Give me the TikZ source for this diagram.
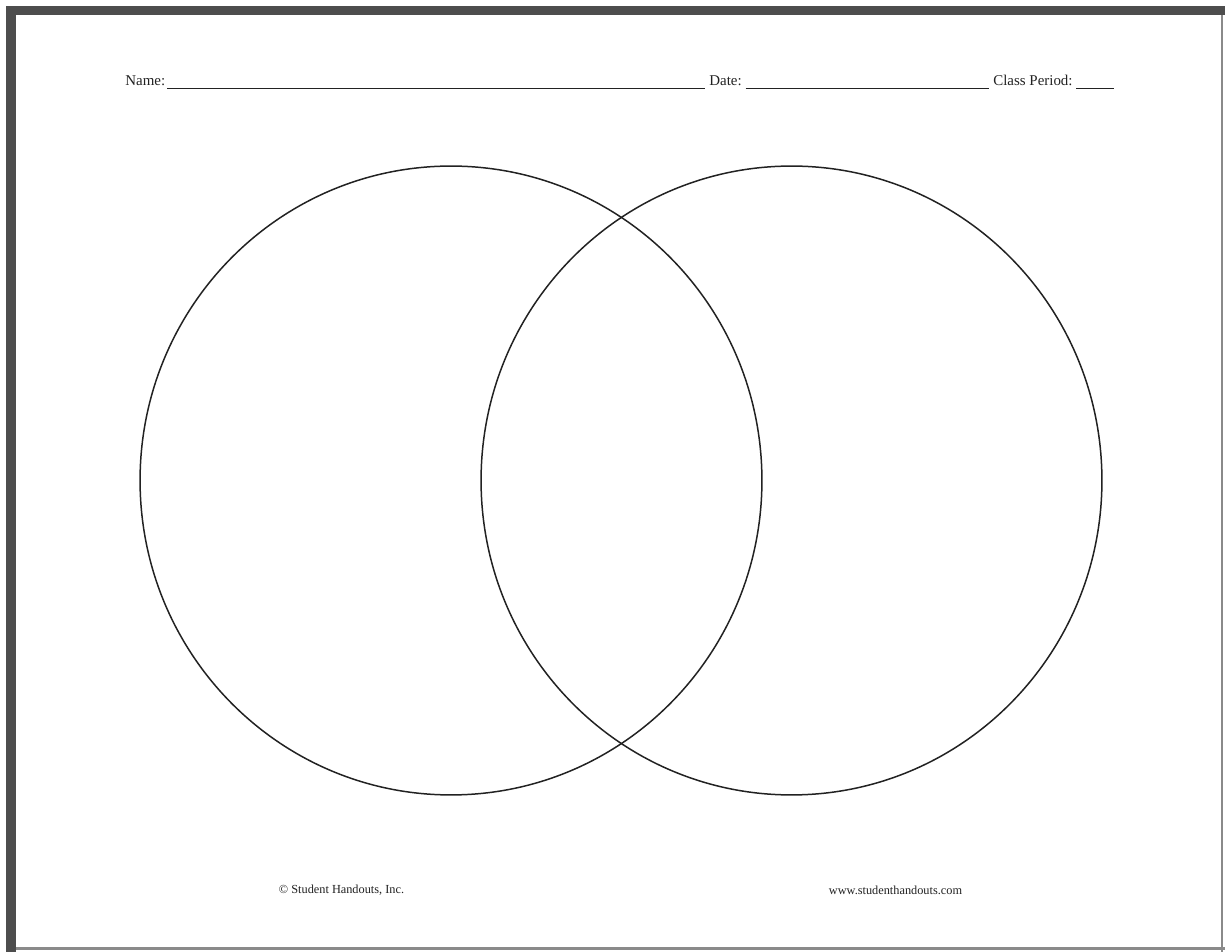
\documentclass[tikz,border=0pt]{standalone}
\usepackage{fontspec}
\setmainfont{Liberation Serif}
\usetikzlibrary{shapes.geometric}
\definecolor{ink}{HTML}{222222}
\definecolor{frame}{HTML}{4D4D4D}
\definecolor{edge}{HTML}{8A8A8A}
\tikzset{
  every node/.style={font=\rmfamily},
  ring/.style={draw=ink, ellipse, line width=0.85pt, inner sep=0pt},
  headlabel/.style={font=\rmfamily\fontsize{8.5}{10}\selectfont, text=ink, anchor=base west, inner sep=0pt},
  footlabel/.style={font=\rmfamily\fontsize{7}{8}\selectfont, text=ink, inner sep=0pt},
  blank/.style={draw=ink, line width=0.6pt},
}
\begin{document}
\begin{tikzpicture}[x=0.02cm,y=-0.02cm]
\useasboundingbox (0,0) rectangle (1225,952);
% page frame
\fill[white] (0,0) rectangle (1225,952);
\fill[frame] (6,6) rectangle (1225,15);
\fill[frame] (6,6) rectangle (16,952);
\draw[edge, line width=1.2pt] (1222,15) -- (1222,952);
\draw[edge, line width=1.2pt] (16,948.5) -- (1225,948.5);
% heading
\node[headlabel] (name) at (125,86) {Name:};
\node[headlabel] (date) at (709,86) {Date:};
\node[headlabel] (period) at (993,86) {Class Period:};
\draw[blank] ([xshift=1pt,yshift=-1.2pt]name.base east) -- ([xshift=-2pt,yshift=-1.2pt]date.base west);
\draw[blank] ([xshift=2pt,yshift=-1.2pt]date.base east) -- ([xshift=-2pt,yshift=-1.2pt]period.base west);
\draw[blank] ([xshift=2pt,yshift=-1.2pt]period.base east) -- ++(38,0);
% the two circles
\node[ring, minimum width=12.44cm, minimum height=12.58cm] (left) at (451,480.5) {};
\node[ring, minimum width=12.42cm, minimum height=12.58cm] (right) at (791.5,480.5) {};
% footer
\node[footlabel] (copy) at (341.5,890) {\textcopyright{} Student Handouts, Inc.};
\node[footlabel] (site) at (895.5,890) {www.studenthandouts.com};
\end{tikzpicture}
\end{document}
